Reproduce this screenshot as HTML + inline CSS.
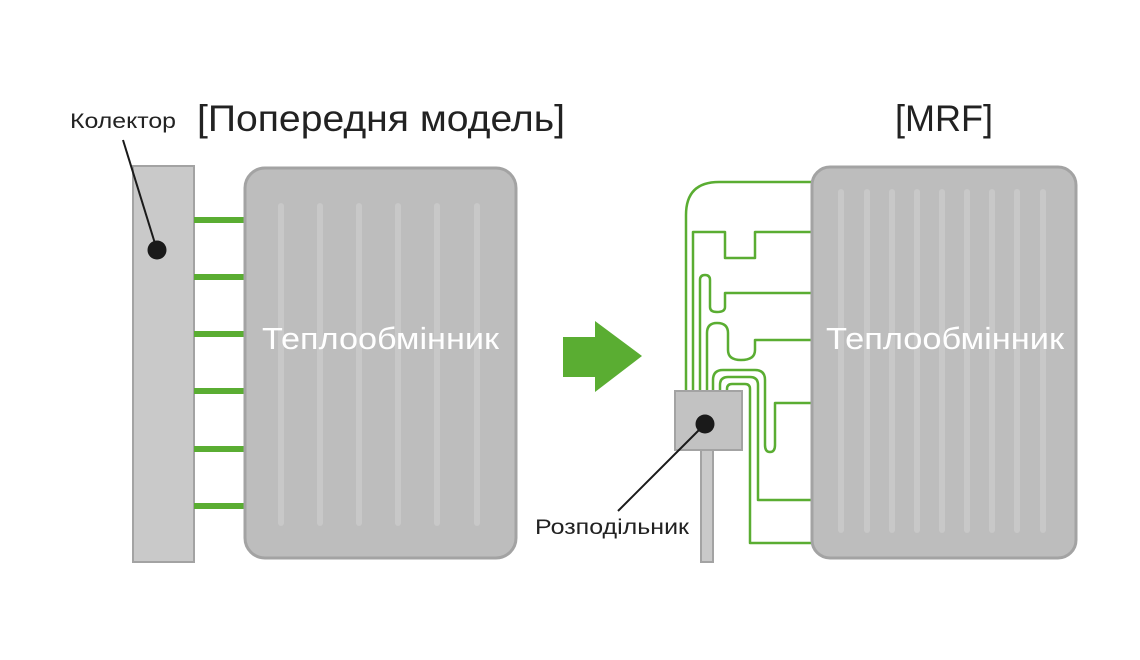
<!DOCTYPE html>
<html><head><meta charset="utf-8"><style>
body{margin:0;background:#fff;}
svg{display:block;font-family:"Liberation Sans",sans-serif;}
</style></head><body>
<svg width="1140" height="660" viewBox="0 0 1140 660" xmlns="http://www.w3.org/2000/svg">
<rect width="1140" height="660" fill="#fff"/>
<text x="197" y="131" font-size="37" fill="#222" textLength="368" lengthAdjust="spacingAndGlyphs">[Попередня модель]</text>
<text x="895" y="131" font-size="37" fill="#222" textLength="98" lengthAdjust="spacingAndGlyphs">[MRF]</text>
<text x="70" y="128" font-size="21" fill="#222" textLength="106" lengthAdjust="spacingAndGlyphs">Колектор</text>
<text x="535" y="534" font-size="21" fill="#222" textLength="154" lengthAdjust="spacingAndGlyphs">Розподільник</text>

<!-- left -->
<rect x="133" y="166" width="61" height="396" fill="#c9c9c9" stroke="#a3a3a3" stroke-width="2"/>
<g fill="#5aad32">
<rect x="194" y="217" width="51" height="6"/><rect x="194" y="274" width="51" height="6"/>
<rect x="194" y="331" width="51" height="6"/><rect x="194" y="388" width="51" height="6"/>
<rect x="194" y="446" width="51" height="6"/><rect x="194" y="503" width="51" height="6"/>
</g>
<rect x="245" y="168" width="271" height="390" rx="20" fill="#bdbdbd" stroke="#a3a3a3" stroke-width="3"/>
<g stroke="#c8c8c8" stroke-width="6" stroke-linecap="round">
<line x1="281" y1="206" x2="281" y2="523"/><line x1="320" y1="206" x2="320" y2="523"/>
<line x1="359" y1="206" x2="359" y2="523"/><line x1="398" y1="206" x2="398" y2="523"/>
<line x1="437" y1="206" x2="437" y2="523"/><line x1="477" y1="206" x2="477" y2="523"/>
</g>
<text x="262" y="349" font-size="31" fill="#fff" textLength="237" lengthAdjust="spacingAndGlyphs">Теплообмінник</text>
<line x1="123" y1="140" x2="157" y2="250" stroke="#1a1a1a" stroke-width="2"/>
<circle cx="157" cy="250" r="9.5" fill="#1a1a1a"/>

<!-- arrow -->
<polygon points="563,337 595,337 595,321 642,356 595,392 595,377 563,377" fill="#5aad32"/>

<!-- right pipes -->
<g fill="none" stroke="#5aad32" stroke-width="2.5" stroke-linejoin="round">
<path d="M686,392 V215 Q686,182 719,182 H812"/>
<path d="M693,392 V232 H725 V258 H755 V232 H812"/>
<path d="M700,392 V280 Q700,275 705,275 Q710,275 710,280 V307 Q710,312 717,312 Q725,312 725,307 V293 H812"/>
<path d="M707,392 V333 Q707,323 717,323 Q728,323 728,333 V350 Q728,360 741,360 Q755,360 755,350 V340 H812"/>
<path d="M713,392 V380 Q713,370 723,370 H755 Q765,370 765,380 V445 Q765,452 770,452 Q775,452 775,445 V403 H812"/>
<path d="M720,392 V385 Q720,377 728,377 H750 Q758,377 758,385 V500 H812"/>
<path d="M727,392 V389 Q727,384 732,384 H745 Q750,384 750,389 V543 H812"/>
</g>
<rect x="812" y="167" width="264" height="391" rx="18" fill="#bdbdbd" stroke="#a3a3a3" stroke-width="3"/>
<g stroke="#c8c8c8" stroke-width="6" stroke-linecap="round">
<line x1="841" y1="192" x2="841" y2="530"/><line x1="867" y1="192" x2="867" y2="530"/>
<line x1="892" y1="192" x2="892" y2="530"/><line x1="917" y1="192" x2="917" y2="530"/>
<line x1="942" y1="192" x2="942" y2="530"/><line x1="967" y1="192" x2="967" y2="530"/>
<line x1="992" y1="192" x2="992" y2="530"/><line x1="1017" y1="192" x2="1017" y2="530"/>
<line x1="1043" y1="192" x2="1043" y2="530"/>
</g>
<text x="826" y="349" font-size="31" fill="#fff" textLength="238" lengthAdjust="spacingAndGlyphs">Теплообмінник</text>
<rect x="701" y="450" width="12" height="112" fill="#c9c9c9" stroke="#a3a3a3" stroke-width="2"/>
<rect x="675" y="391" width="67" height="59" fill="#c2c2c2" stroke="#a3a3a3" stroke-width="2"/>
<line x1="618" y1="511" x2="705" y2="424" stroke="#1a1a1a" stroke-width="2"/>
<circle cx="705" cy="424" r="9.5" fill="#1a1a1a"/>
</svg>
</body></html>
